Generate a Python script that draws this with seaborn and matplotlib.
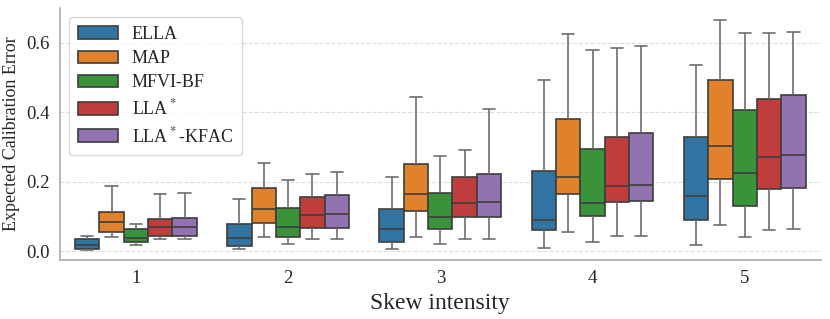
import pandas as pd
import seaborn as sns
import matplotlib.pyplot as plt

# Box statistics: (low whisker, q1, median, q3, high whisker) per skew level
skews = [1, 2, 3, 4, 5]
methods = ['ELLA', 'MAP', 'MFVI-BF', r'LLA$^*$', r'LLA$^*$-KFAC']

ella = [(0.005, 0.008, 0.017, 0.035, 0.044),
        (0.007, 0.016, 0.039, 0.079, 0.150),
        (0.006, 0.027, 0.065, 0.122, 0.214),
        (0.009, 0.060, 0.091, 0.232, 0.492),
        (0.017, 0.089, 0.158, 0.329, 0.535)]
map_ = [(0.040, 0.055, 0.084, 0.112, 0.189),
        (0.042, 0.082, 0.122, 0.183, 0.253),
        (0.042, 0.115, 0.164, 0.251, 0.443),
        (0.055, 0.166, 0.215, 0.380, 0.625),
        (0.075, 0.208, 0.303, 0.493, 0.666)]
mfvi = [(0.018, 0.027, 0.039, 0.065, 0.078),
        (0.022, 0.042, 0.071, 0.125, 0.206),
        (0.020, 0.065, 0.100, 0.169, 0.275),
        (0.026, 0.102, 0.138, 0.294, 0.579),
        (0.041, 0.129, 0.224, 0.407, 0.628)]
lla = [(0.034, 0.044, 0.069, 0.093, 0.164),
       (0.034, 0.067, 0.103, 0.155, 0.222),
       (0.034, 0.098, 0.138, 0.215, 0.292),
       (0.044, 0.142, 0.189, 0.328, 0.585),
       (0.061, 0.179, 0.271, 0.438, 0.627)]
kfac = [(0.034, 0.044, 0.070, 0.097, 0.168),
        (0.035, 0.068, 0.108, 0.161, 0.228),
        (0.034, 0.099, 0.142, 0.223, 0.410),
        (0.044, 0.145, 0.192, 0.341, 0.592),
        (0.063, 0.183, 0.276, 0.451, 0.632)]

rows = []
for name, stats in zip(methods, [ella, map_, mfvi, lla, kfac]):
    for s, vals in zip(skews, stats):
        for v in vals:
            rows.append({'Skew': s, 'Method': name, 'ECE': v})
df = pd.DataFrame(rows)

sns.set_style('white')
plt.rcParams['font.family'] = ['Liberation Serif', 'DejaVu Serif']
plt.rcParams['mathtext.fontset'] = 'stix'

fig, ax = plt.subplots(figsize=(8.3, 3.19), dpi=100)
sns.boxplot(data=df, x='Skew', y='ECE', hue='Method', hue_order=methods,
            whis=(0, 100), showfliers=False, width=0.8, linewidth=1.2,
            whiskerprops={'color': '#6e6e6e'}, capprops={'color': '#6e6e6e'},
            ax=ax)

ax.set_ylim(-0.025, 0.70)
ax.set_yticks([0.0, 0.2, 0.4, 0.6])
ax.yaxis.grid(True, linestyle='--', color='#dddddd', linewidth=0.8)
ax.set_axisbelow(True)
ax.set_xlabel('Skew intensity', fontsize=17)
ax.set_ylabel('Expected Calibration Error', fontsize=13)
ax.tick_params(axis='both', labelsize=13.5, length=4, color='#aaaaaa')
sns.despine(ax=ax)
for sp in ['left', 'bottom']:
    ax.spines[sp].set_color('#aaaaaa')
    ax.spines[sp].set_linewidth(1.2)

ax.legend(loc='upper left', fontsize=13, frameon=True, handlelength=2.2,
          borderpad=0.5, labelspacing=0.4)

plt.subplots_adjust(left=0.072, right=0.989, top=0.975, bottom=0.185)
plt.savefig('out.png', dpi=100)
